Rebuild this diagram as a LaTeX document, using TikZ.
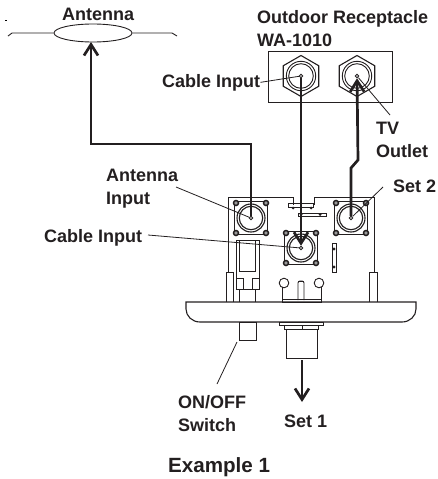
\documentclass[tikz,border=0pt]{standalone}
\usepackage{fontspec}
\setmainfont{Liberation Sans}
\usetikzlibrary{arrows.meta,shapes.geometric}
\definecolor{inkdark}{HTML}{231F20}
\tikzset{
  labeltext/.style={font=\bfseries\fontsize{18}{23}\selectfont, text=inkdark, anchor=base west, inner sep=0pt, align=left},
  thinline/.style={draw=inkdark, line width=0.9pt},
  leader/.style={draw=inkdark, line width=0.8pt},
  cable/.style={draw=inkdark, line width=2.7pt, -{Straight Barb[length=11pt,width=14pt,line width=2.7pt]}},
  dotnode/.style={circle, draw=inkdark, fill=white, line width=0.9pt, minimum size=3.6pt, inner sep=0pt},
  nutnode/.style={regular polygon, regular polygon sides=6, draw=inkdark, line width=1.1pt, minimum size=41pt, inner sep=0pt}
}
\begin{document}
\begin{tikzpicture}[x=1pt, y=-1pt]
        \useasboundingbox (0,0) rectangle (437,479);
        % Define the free line ends
        \coordinate (stubLa) at (8,36);
        \coordinate (stubLb) at (12,33);
        \coordinate (stubRa) at (172,33);
        \coordinate (stubRb) at (177,36);
        \coordinate (bendAnt) at (91,144);
        \coordinate (bendTvA) at (358,160);
        \coordinate (bendTvB) at (351,168);
        \coordinate (tipTv) at (390,115);
        \coordinate (tipAntIn) at (176,187);
        \coordinate (tipCable) at (148,235);
        \coordinate (tipSetTwo) at (383,187);
        \coordinate (tipSwitch) at (217,384);
        \coordinate (tipSetOne) at (302,402);
        \coordinate (tipSwTop) at (237,342);
        \coordinate (topSetOne) at (302,360);
        \coordinate (tipAntenna) at (91,42);

        % Antenna
        \node[ellipse, thinline, minimum width=78pt, minimum height=18pt, inner sep=0pt] (antenna) at (93,33) {};
        \draw[thinline] (antenna.west) -- (stubLb) -- (stubLa);
        \draw[thinline] (antenna.east) -- (stubRa) -- (stubRb);
        \draw[line width=0.6pt] (5,20) -- (7,20);

        % Outdoor receptacle box with its two nuts
        \node[thinline, draw, minimum width=124pt, minimum height=51pt, inner sep=0pt] (recbox) at (330,76.5) {};
        \foreach \nutname/\nx in {recIn/301, recOut/357} {
            \node[nutnode, shape border rotate=90] (\nutname) at (\nx,76) {};
            \draw[thinline] (\nx,76) circle[radius=14.7pt];
            \draw[thinline] (\nx,76) circle[radius=12.3pt];
            \node[dotnode] (\nutname Dot) at (\nx,76) {};
        }

        % Panel outline, notch and posts
        \draw[thinline] (228,272) -- (228,197) -- (293,197) -- (293,205);
        \draw[thinline] (314,205) -- (314,197) -- (374,197) -- (374,272);
        \draw[thinline] (226,302) -- (226,272) -- (233,272) -- (233,302);
        \draw[thinline] (369,302) -- (369,272) -- (377,272) -- (377,302);
        \draw[thinline] (288,203) rectangle (313,207);
        \fill[inkdark] (293,208) circle[radius=1.5pt] (311,208) circle[radius=1.5pt];
        \draw[thinline] (298,213) rectangle (326,216);
        \fill[inkdark] (301,214.5) circle[radius=1.5pt] (320,214.5) circle[radius=1.5pt];
        \draw[thinline] (332,243) rectangle (336,272);
        \fill[inkdark] (334,249) circle[radius=1.6pt] (334,267) circle[radius=1.6pt];

        % Switch body
        \draw[thinline] (236,240) rectangle (259,289);
        \draw[thinline] (239,240) rectangle (255,271);
        \draw[thinline] (236,278) -- (243,278) -- (243,289);
        \draw[thinline] (259,278) -- (252,278) -- (252,289);
        \draw[thinline] (239,289) -- (239,302);
        \draw[thinline] (255,289) -- (255,302);

        % Contacts above the plate
        \draw[thinline] (284,283) circle[radius=4.8pt];
        \draw[thinline] (319,283) circle[radius=4.8pt];
        \draw[thinline] (282,287) -- (282,299);
        \draw[thinline] (321,287) -- (321,299);
        \draw[thinline] (282,299.5) rectangle (321,302);
        \draw[thinline, rounded corners=2pt] (298,300) -- (298,281) -- (304,281) -- (304,300);
        \draw[inkdark, line width=1.6pt] (299,281.5) -- (303,281.5);

        % Front plate
        \draw[thinline, line width=1.1pt] (186,302) -- (416,302) -- (416,309) .. controls (416,316) and (410,322) .. (402,322) -- (200,322) .. controls (192,322) and (186,316) .. (186,309) -- cycle;

        % Switch knob and threaded output
        \draw[thinline] (239,322) rectangle (256,340);
        \draw[thinline] (279,322) rectangle (323,325);
        \draw[thinline] (284,325) rectangle (318,329);
        \draw[thinline] (302,325) -- (302,329);
        \draw[thinline] (286,329) rectangle (317,358);

        % Square jacks on the panel
        \foreach \jackname/\jx/\jy in {jackAnt/251/218, jackCable/301/248, jackSet/351/218} {
            \begin{scope}[shift={(\jx,\jy)}]
                \draw[thinline, fill=white] (-16.5,-16.5) rectangle (16.5,16.5);
                \foreach \cx/\cy in {-15/-15, 15/-15, -15/15, 15/15} {
                    \draw[inkdark, line width=1.5pt, fill=black!40] (\cx,\cy) circle[radius=2.5pt];
                }
                \draw[thinline, line width=1.1pt] (0,0) circle[radius=14pt];
                \draw[thinline, line width=1.1pt] (0,0) circle[radius=11.7pt];
            \end{scope}
            \node[dotnode] (\jackname) at (\jx,\jy) {};
        }

        % Cables
        \draw[cable] (jackAnt) |- (bendAnt) -- (tipAntenna);
        \draw[cable] (recInDot) -- (jackCable);
        \draw[cable] (jackSet) -- (bendTvB) -- (bendTvA) -- (recOutDot);
        \draw[cable] (topSetOne) -- (tipSetOne);

        % Labels
        \node[labeltext] (lblAntenna) at (62,20) {Antenna};
        \node[labeltext] (lblRec) at (257,46) {Outdoor Receptacle\\WA-1010};
        \node[labeltext] (lblRecIn) at (162,87) {Cable Input};
        \node[labeltext] (lblTv) at (376,157) {TV\\Outlet};
        \node[labeltext] (lblAntIn) at (106,204) {Antenna\\Input};
        \node[labeltext] (lblSetTwo) at (393,192) {Set 2};
        \node[labeltext] (lblCable) at (44,242) {Cable Input};
        \node[labeltext] (lblSwitch) at (178,431) {ON/OFF\\Switch};
        \node[labeltext] (lblSetOne) at (284,427) {Set 1};
        \node[labeltext, font=\bfseries\fontsize{20.6}{23}\selectfont] (lblExample) at (168,472) {Example 1};

        % Leader lines
        \draw[leader] (lblRecIn.east) -- (recInDot);
        \draw[leader] (tipTv) -- (recOutDot);
        \draw[leader] (tipAntIn) -- (jackAnt);
        \draw[leader] (tipCable) -- (jackCable);
        \draw[leader] (tipSetTwo) -- (jackSet);
        \draw[leader] (tipSwitch) -- (tipSwTop);
    \end{tikzpicture}
\end{document}
